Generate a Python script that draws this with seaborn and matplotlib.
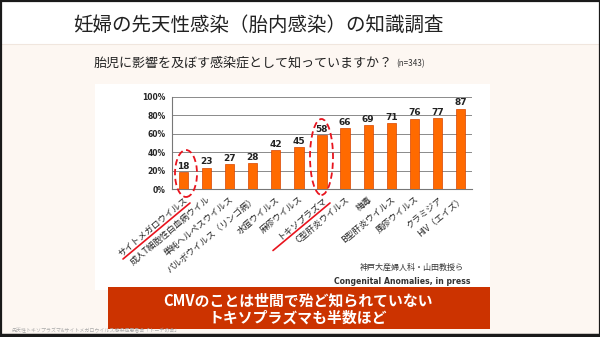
import matplotlib
matplotlib.use("Agg")
import matplotlib.pyplot as plt
import seaborn as sns
import pandas as pd
from matplotlib.patches import Rectangle, Ellipse
from matplotlib.lines import Line2D

sns.set_theme(style="white")
plt.rcParams['font.family'] = ['Noto Sans CJK JP', 'DejaVu Sans']

categories = ["サイトメガロウイルス", "成人T細胞性白血病ウイル", "単純ヘルペスウイルス",
              "パルボウイルス（リンゴ病）", "水痘ウイルス", "麻疹ウイルス", "トキソプラズマ",
              "C型肝炎ウイルス", "梅毒", "B型肝炎ウイルス", "風疹ウイルス", "クラミジア", "HIV（エイズ）"]
values = [18, 23, 27, 28, 42, 45, 58, 66, 69, 71, 76, 77, 87]
yticks = [0, 20, 40, 60, 80, 100]
ytick_labels = ["0%", "20%", "40%", "60%", "80%", "100%"]

title = "妊婦の先天性感染（胎内感染）の知識調査"
subtitle = "胎児に影響を及ぼす感染症として知っていますか？"
n_label = "(n=343)"
source1 = "神戸大産婦人科・山田教授ら"
source2 = "Congenital Anomalies, in press"
banner1 = "CMVのことは世間で殆ど知られていない"
banner2 = "トキソプラズマも半数ほど"
footer = "先天性トキソプラズマ&サイトメガロウイルス感染症患者会「トーチの会」"

W, H = 600, 337
fig = plt.figure(figsize=(6, 3.37), dpi=100)
fig.patch.set_facecolor("#FDF7F2")

def fx(x):
    return x / W
def fy(y):
    return 1 - y / H

def rect(x0, y0, x1, y1, **kw):
    fig.patches.append(Rectangle((fx(x0), fy(y1)), fx(x1) - fx(x0), fy(y0) - fy(y1),
                                 transform=fig.transFigure, **kw))

# title band
rect(0, 0, 600, 44, facecolor="white", edgecolor="none", zorder=-2)
fig.lines.append(Line2D([0, 1], [fy(44), fy(44)], transform=fig.transFigure, color="#F0E6DE", lw=0.8, zorder=-1))
# white chart box
rect(95, 84, 490, 290, facecolor="white", edgecolor="none", zorder=-2)

fig.text(fx(258), fy(25), title, fontsize=14, ha="center", va="center", color="#222222")
fig.text(fx(94), fy(63), subtitle, fontsize=9.4, ha="left", va="center", color="#222222")
fig.text(fx(396), fy(64), n_label, fontsize=5.8, ha="left", va="center", color="#333333")

ax = fig.add_axes([fx(172), fy(189), fx(472) - fx(172), fy(96.7) - fy(189)])
ax.set_facecolor("none")
df = pd.DataFrame({"cat": categories, "val": values})
sns.barplot(data=df, x="cat", y="val", ax=ax, color="#FF6A00", width=0.4,
            edgecolor="#D84500", linewidth=0.5, saturation=1, zorder=3)
ax.set_ylim(0, 100)
ax.set_xlim(-0.5, len(categories) - 0.5)
ax.set_yticks(yticks)
ax.set_yticklabels(ytick_labels, fontsize=5.5, fontweight="bold", family=["DejaVu Sans"])
ax.grid(axis="y", color="#8A8A8A", lw=0.7, zorder=0)
ax.set_axisbelow(True)
for s in ["top", "right"]:
    ax.spines[s].set_visible(False)
for s in ["left", "bottom"]:
    ax.spines[s].set_color("#777777")
    ax.spines[s].set_linewidth(0.8)
ax.set_xlabel("")
ax.set_ylabel("")
ax.set_xticks(range(len(categories)))
ax.set_xticklabels(categories, rotation=40, ha="right", rotation_mode="anchor",
                   fontsize=6.3, color="#222222")
ax.tick_params(axis="x", length=0, pad=4)
ax.set_xticks([i - 0.5 for i in range(len(categories) + 1)], minor=True)
ax.tick_params(axis="x", which="minor", length=2.5, color="#777777", width=0.6)
ax.tick_params(axis="y", length=2.5, color="#777777", width=0.6, pad=2)
for i, v in enumerate(values):
    ax.text(i, v + 1.5, str(v), ha="center", va="bottom", fontsize=6.5,
            fontweight="bold", color="#222222", family=["DejaVu Sans"])

# dashed ellipses
for cx, cy, w, h in [(186, 173.5, 22, 47), (321.5, 157, 23, 76)]:
    fig.patches.append(Ellipse((fx(cx), fy(cy)), w / W, h / H, transform=fig.transFigure,
                               fill=False, edgecolor="#E8141E", lw=1.3, linestyle=(0, (3.5, 2)),
                               zorder=10))
# red underlines
for (x0, y0), (x1, y1) in [((123, 259), (190, 203)), ((273, 250.5), (330, 203))]:
    fig.lines.append(Line2D([fx(x0), fx(x1)], [fy(y0), fy(y1)], transform=fig.transFigure,
                            color="#E8141E", lw=1.2, zorder=10))

fig.text(fx(464), fy(267), source1, fontsize=5.8, ha="right", va="center", color="#333333")
fig.text(fx(470), fy(281), source2, fontsize=5.6, ha="right", va="center", color="#333333",
         fontweight="bold", family=["DejaVu Sans"])

# banner
rect(108, 287, 490, 329, facecolor="#CC3300", edgecolor="none", zorder=1)
fig.text(fx(298), fy(300.5), banner1, fontsize=10.7, ha="center", va="center", color="white",
         fontweight="bold")
fig.text(fx(298), fy(317.5), banner2, fontsize=10.7, ha="center", va="center", color="white",
         fontweight="bold")

fig.text(fx(12), fy(331), footer, fontsize=3.6, ha="left", va="center", color="#AAAAAA")

# slide border
rect(0.5, 0.5, 599.5, 336.5, facecolor="none", edgecolor="#1A1A1A", lw=1.6, zorder=20)
fig.lines.append(Line2D([0, 1], [fy(334.5), fy(334.5)], transform=fig.transFigure,
                        color="#1A1A1A", lw=2.5, zorder=20))

fig.savefig("out.png", dpi=100)
